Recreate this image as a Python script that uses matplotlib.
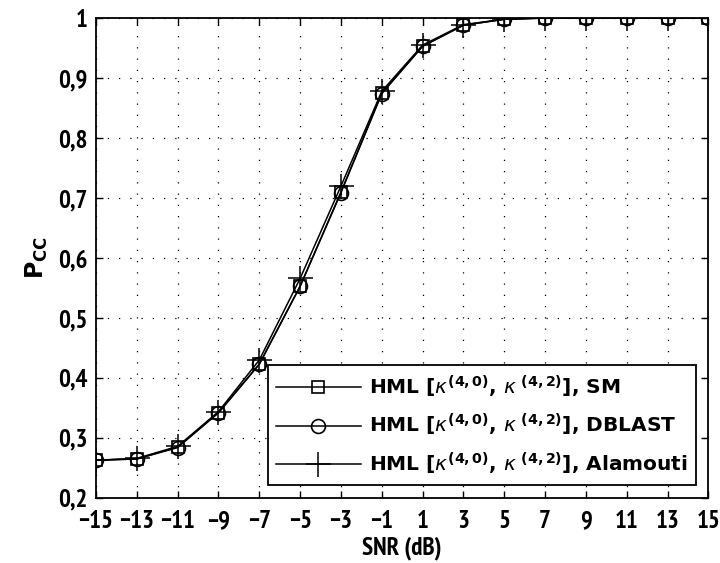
import matplotlib
matplotlib.use("Agg")
import matplotlib.pyplot as plt
from matplotlib import font_manager
from matplotlib.font_manager import FontProperties

snr = [-15, -13, -11, -9, -7, -5, -3, -1, 1, 3, 5, 7, 9, 11, 13, 15]
p_sm = [0.263, 0.265, 0.285, 0.342, 0.423, 0.553, 0.710, 0.875, 0.953, 0.988, 0.998, 1.0, 1.0, 1.0, 1.0, 1.0]
p_dblast = [0.263, 0.265, 0.284, 0.342, 0.423, 0.553, 0.709, 0.874, 0.953, 0.988, 0.998, 1.0, 1.0, 1.0, 1.0, 1.0]
p_alamouti = [0.263, 0.266, 0.286, 0.344, 0.430, 0.566, 0.720, 0.878, 0.955, 0.989, 0.998, 1.0, 1.0, 1.0, 1.0, 1.0]
labels = [r"HML [$\kappa^{\mathbf{(4,0)}}$, $\kappa^{\ \mathbf{(4,2)}}$], SM",
          r"HML [$\kappa^{\mathbf{(4,0)}}$, $\kappa^{\ \mathbf{(4,2)}}$], DBLAST",
          r"HML [$\kappa^{\mathbf{(4,0)}}$, $\kappa^{\ \mathbf{(4,2)}}$], Alamouti"]
xticks = list(range(-15, 16, 2))
yticks = [0.2, 0.3, 0.4, 0.5, 0.6, 0.7, 0.8, 0.9, 1.0]
ytick_labels = ["0,2", "0,3", "0,4", "0,5", "0,6", "0,7", "0,8", "0,9", "1"]

# find a condensed / narrow bold font if present
cands = []
for f in font_manager.fontManager.ttflist:
    fn = f.fname.lower()
    if ("condensed" in fn or "narrow" in fn) and "bold" in fn and "oblique" not in fn and "italic" not in fn:
        cands.append(f.fname)
cands.sort(key=lambda s: (0 if "narrow" in s.lower() else 1 if "dejavu" in s.lower() else 2, s))
if cands:
    tick_fp = lambda size: FontProperties(fname=cands[0], size=size)
else:
    tick_fp = lambda size: FontProperties(family="Liberation Sans", weight="bold", size=size * 0.8)

plt.rcParams["mathtext.fontset"] = "dejavusans"

fig = plt.figure(figsize=(7.2, 5.63), dpi=100)
ax = fig.add_axes([0.1333, 0.1155, 0.8507, 0.8525])

ax.plot(snr, p_sm, color="black", lw=1.1, marker="s", ms=9, mfc="none", mec="black", mew=1.2, label=labels[0])
ax.plot(snr, p_dblast, color="black", lw=1.1, marker="o", ms=10, mfc="none", mec="black", mew=1.2, label=labels[1])
ax.plot(snr, p_alamouti, color="black", lw=1.1, marker="+", ms=18, mec="black", mew=1.1, label=labels[2])

ax.set_xlim(-15, 15)
ax.set_ylim(0.2, 1.0)
ax.set_xticks(xticks)
ax.set_xticklabels([str(t).replace("-", "\u2212") for t in xticks])
ax.set_yticks(yticks)
ax.set_yticklabels(ytick_labels)
ax.grid(True, color="black", linestyle=(0, (1, 8)), linewidth=0.9)
ax.tick_params(direction="in", top=True, right=True, length=5, width=1)
ax.tick_params(axis="x", pad=9)
ax.tick_params(axis="y", pad=6)
for lab in ax.get_xticklabels() + ax.get_yticklabels():
    lab.set_fontproperties(tick_fp(18))
for s in ax.spines.values():
    s.set_linewidth(1.3)

ax.set_xlabel("SNR (dB)", fontproperties=tick_fp(18), labelpad=2)
ax.set_ylabel(r"$\mathbf{P}_{\mathbf{CC}}$", fontsize=17, labelpad=6)

leg = ax.legend(loc="lower right", bbox_to_anchor=(0.979, 0.027), borderaxespad=0,
                fancybox=False, framealpha=1,
                edgecolor="black", handlelength=4.2, handletextpad=0.4, borderpad=0.4, labelspacing=0.62,
                prop={"family": "DejaVu Sans", "weight": "bold", "size": 14.5})
leg.get_frame().set_linewidth(1.3)

fig.savefig("out.png", dpi=100)
